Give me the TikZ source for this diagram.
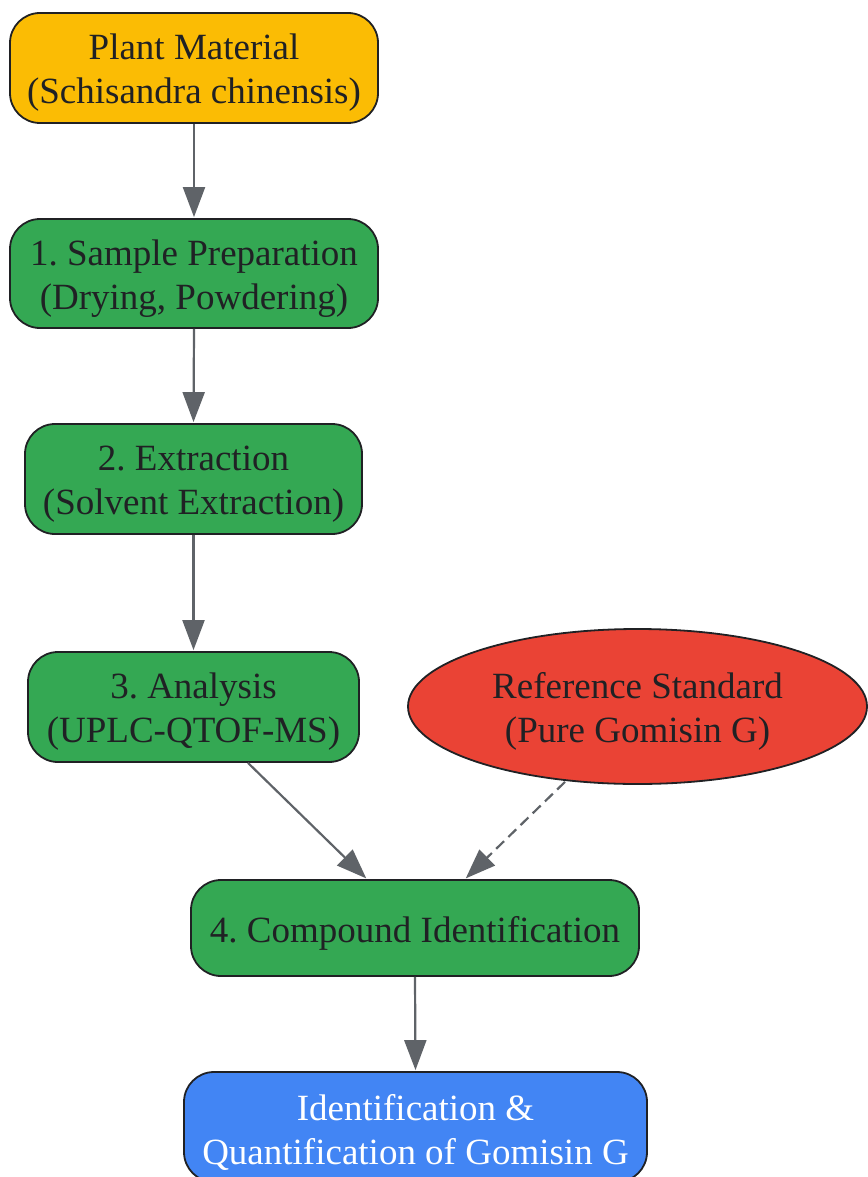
\documentclass[tikz,border=0pt]{standalone}
\usepackage{fontspec}
\setmainfont{Liberation Serif}
\usetikzlibrary{arrows.meta,shapes.geometric}
\definecolor{cyellow}{HTML}{FBBC04}
\definecolor{cgreen}{HTML}{34A853}
\definecolor{cred}{HTML}{EA4335}
\definecolor{cblue}{HTML}{4285F4}
\definecolor{cline}{HTML}{5F6368}
\definecolor{ctext}{HTML}{202124}
\frenchspacing
\tikzset{
  lbl/.style={align=center, inner sep=0pt, yshift=-5pt, text=ctext, font=\fontsize{37}{44}\selectfont\frenchspacing},
  box/.style={draw=ctext, line width=1.8pt, rounded corners=30pt, inner sep=0pt},
  oval/.style={ellipse, draw=ctext, line width=1.8pt, inner sep=0pt},
  conn/.style={draw=cline, line width=2.2pt, -{Triangle[length=30pt,width=22pt]}, shorten >=1pt},
  dconn/.style={conn, dash pattern=on 11pt off 6pt}
}
\begin{document}
\begin{tikzpicture}
\useasboundingbox (0pt,0pt) rectangle (867pt,-1177pt);
\node[box, fill=cyellow, minimum width=368pt, minimum height=110pt,
  label={[lbl]center:Plant Material\\(Schisandra chinensis)}] (plant) at (194pt,-68pt) {};
\node[box, fill=cgreen, minimum width=368pt, minimum height=109pt,
  label={[lbl]center:1. Sample Preparation\\(Drying, Powdering)}] (prep) at (194pt,-273.5pt) {};
\node[box, fill=cgreen, minimum width=337pt, minimum height=110pt,
  label={[lbl]center:2. Extraction\\(Solvent Extraction)}] (extr) at (193.5pt,-479pt) {};
\node[box, fill=cgreen, minimum width=331pt, minimum height=110pt,
  label={[lbl]center:3. Analysis\\(UPLC-QTOF-MS)}] (ana) at (193.5pt,-707pt) {};
\node[oval, fill=cred, minimum width=459pt, minimum height=155pt,
  label={[lbl]center:Reference Standard\\(Pure Gomisin G)}] (ref) at (637.5pt,-706.5pt) {};
\node[box, fill=cgreen, minimum width=448pt, minimum height=96pt,
  label={[lbl]center:4. Compound Identification}] (cid) at (415pt,-928pt) {};
\node[box, fill=cblue, minimum width=463pt, minimum height=110pt,
  label={[lbl, text=white]center:Identification \&\\Quantification of Gomisin G}] (res) at (415.5pt,-1127pt) {};
\draw[conn] (plant.south) -- (prep.north);
\draw[conn] (prep.south) -- (extr.north);
\draw[conn] (extr.south) -- (ana.north);
\draw[conn] ([xshift=54.5pt]ana.south) -- ([xshift=-48pt]cid.north);
\draw[dconn] ([xshift=-72.5pt,yshift=3pt]ref.south) -- ([xshift=50pt]cid.north);
\draw[conn] (cid.south) -- (res.north);
\end{tikzpicture}
\end{document}
